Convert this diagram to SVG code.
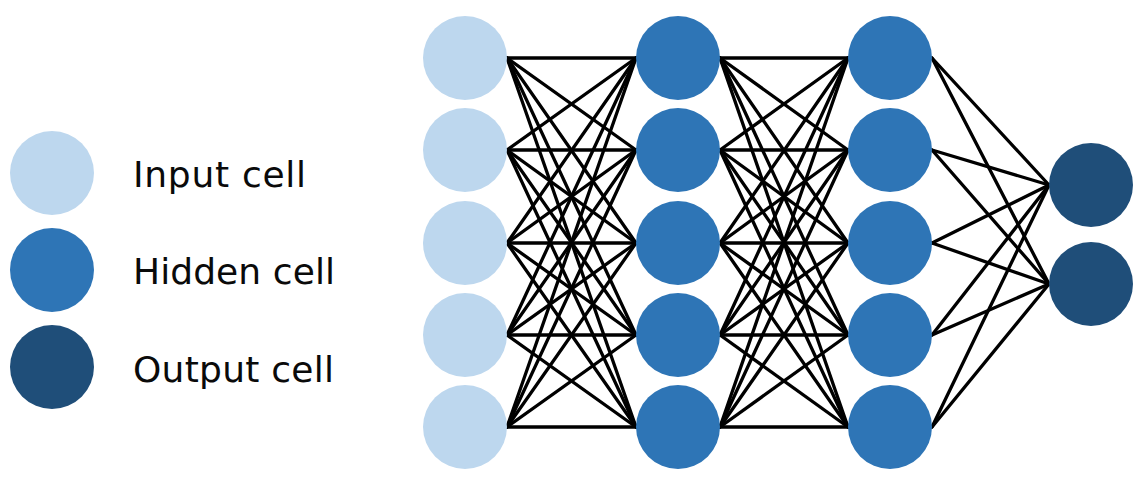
<svg xmlns="http://www.w3.org/2000/svg" width="1143" height="489" viewBox="0 0 1143 489">
<style>
.in{fill:#BDD7EE}
.hid{fill:#2E75B6}
.out{fill:#1F4E79}
.lbl{font-family:"DejaVu Sans",Verdana,sans-serif;font-size:36px;fill:#0a0a0a}
#connectors line{stroke:#000;stroke-width:3.3;stroke-linecap:round}
</style>
<rect width="1143" height="489" fill="#fff"/>
<g id="legend">
<g id="legend-input"><circle class="in" cx="52" cy="173" r="42"/><text class="lbl" x="133" y="187" textLength="173" lengthAdjust="spacing">Input cell</text></g>
<g id="legend-hidden"><circle class="hid" cx="52" cy="270" r="42"/><text class="lbl" x="133" y="284" textLength="202" lengthAdjust="spacing">Hidden cell</text></g>
<g id="legend-output"><circle class="out" cx="52" cy="367" r="42"/><text class="lbl" x="133" y="382" textLength="201" lengthAdjust="spacing">Output cell</text></g>
</g>
<g id="connectors">
<line x1="507" y1="58" x2="636" y2="58"/><line x1="507" y1="58" x2="636" y2="150"/><line x1="507" y1="58" x2="636" y2="243"/><line x1="507" y1="58" x2="636" y2="335"/><line x1="507" y1="58" x2="636" y2="427"/>
<line x1="507" y1="150" x2="636" y2="58"/><line x1="507" y1="150" x2="636" y2="150"/><line x1="507" y1="150" x2="636" y2="243"/><line x1="507" y1="150" x2="636" y2="335"/><line x1="507" y1="150" x2="636" y2="427"/>
<line x1="507" y1="243" x2="636" y2="58"/><line x1="507" y1="243" x2="636" y2="150"/><line x1="507" y1="243" x2="636" y2="243"/><line x1="507" y1="243" x2="636" y2="335"/><line x1="507" y1="243" x2="636" y2="427"/>
<line x1="507" y1="335" x2="636" y2="58"/><line x1="507" y1="335" x2="636" y2="150"/><line x1="507" y1="335" x2="636" y2="243"/><line x1="507" y1="335" x2="636" y2="335"/><line x1="507" y1="335" x2="636" y2="427"/>
<line x1="507" y1="427" x2="636" y2="58"/><line x1="507" y1="427" x2="636" y2="150"/><line x1="507" y1="427" x2="636" y2="243"/><line x1="507" y1="427" x2="636" y2="335"/><line x1="507" y1="427" x2="636" y2="427"/>
<line x1="720" y1="58" x2="848" y2="58"/><line x1="720" y1="58" x2="848" y2="150"/><line x1="720" y1="58" x2="848" y2="243"/><line x1="720" y1="58" x2="848" y2="335"/><line x1="720" y1="58" x2="848" y2="427"/>
<line x1="720" y1="150" x2="848" y2="58"/><line x1="720" y1="150" x2="848" y2="150"/><line x1="720" y1="150" x2="848" y2="243"/><line x1="720" y1="150" x2="848" y2="335"/><line x1="720" y1="150" x2="848" y2="427"/>
<line x1="720" y1="243" x2="848" y2="58"/><line x1="720" y1="243" x2="848" y2="150"/><line x1="720" y1="243" x2="848" y2="243"/><line x1="720" y1="243" x2="848" y2="335"/><line x1="720" y1="243" x2="848" y2="427"/>
<line x1="720" y1="335" x2="848" y2="58"/><line x1="720" y1="335" x2="848" y2="150"/><line x1="720" y1="335" x2="848" y2="243"/><line x1="720" y1="335" x2="848" y2="335"/><line x1="720" y1="335" x2="848" y2="427"/>
<line x1="720" y1="427" x2="848" y2="58"/><line x1="720" y1="427" x2="848" y2="150"/><line x1="720" y1="427" x2="848" y2="243"/><line x1="720" y1="427" x2="848" y2="335"/><line x1="720" y1="427" x2="848" y2="427"/>
<line x1="932" y1="58" x2="1049" y2="185"/><line x1="932" y1="58" x2="1049" y2="284"/>
<line x1="932" y1="150" x2="1049" y2="185"/><line x1="932" y1="150" x2="1049" y2="284"/>
<line x1="932" y1="243" x2="1049" y2="185"/><line x1="932" y1="243" x2="1049" y2="284"/>
<line x1="932" y1="335" x2="1049" y2="185"/><line x1="932" y1="335" x2="1049" y2="284"/>
<line x1="932" y1="427" x2="1049" y2="185"/><line x1="932" y1="427" x2="1049" y2="284"/>
</g>
<g id="input-layer">
<g id="in1"><circle class="in" cx="465" cy="58" r="42"/></g>
<g id="in2"><circle class="in" cx="465" cy="150" r="42"/></g>
<g id="in3"><circle class="in" cx="465" cy="243" r="42"/></g>
<g id="in4"><circle class="in" cx="465" cy="335" r="42"/></g>
<g id="in5"><circle class="in" cx="465" cy="427" r="42"/></g>
</g>
<g id="hidden-layer-1">
<g id="h1a"><circle class="hid" cx="678" cy="58" r="42"/></g>
<g id="h1b"><circle class="hid" cx="678" cy="150" r="42"/></g>
<g id="h1c"><circle class="hid" cx="678" cy="243" r="42"/></g>
<g id="h1d"><circle class="hid" cx="678" cy="335" r="42"/></g>
<g id="h1e"><circle class="hid" cx="678" cy="427" r="42"/></g>
</g>
<g id="hidden-layer-2">
<g id="h2a"><circle class="hid" cx="890" cy="58" r="42"/></g>
<g id="h2b"><circle class="hid" cx="890" cy="150" r="42"/></g>
<g id="h2c"><circle class="hid" cx="890" cy="243" r="42"/></g>
<g id="h2d"><circle class="hid" cx="890" cy="335" r="42"/></g>
<g id="h2e"><circle class="hid" cx="890" cy="427" r="42"/></g>
</g>
<g id="output-layer">
<g id="o1"><circle class="out" cx="1091" cy="185" r="42"/></g>
<g id="o2"><circle class="out" cx="1091" cy="284" r="42"/></g>
</g>
</svg>
